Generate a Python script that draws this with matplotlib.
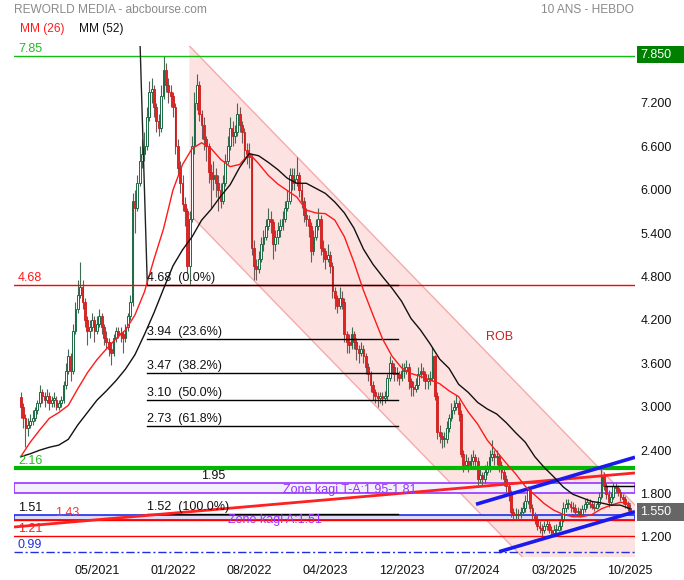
import matplotlib
matplotlib.use("Agg")
import matplotlib.pyplot as plt
import matplotlib.transforms as mtrans
from matplotlib.patches import Rectangle, Polygon
import numpy as np

plt.rcParams['font.family'] = ['Liberation Sans', 'DejaVu Sans']

# ---------------- data ----------------
title = "REWORLD MEDIA - abcbourse.com"
period = "10 ANS - HEBDO"

first_open = 3.14
close = [3.00, 2.85, 2.70, 2.75, 2.80, 2.85, 2.95, 3.05, 3.20, 3.15,
         3.10, 3.15, 3.05, 3.10, 3.10, 3.00, 3.05, 3.10, 3.30, 3.50,
         3.70, 3.50, 4.05, 4.35, 4.55, 4.65, 4.45, 4.20, 4.05, 4.10,
         4.20, 4.05, 4.15, 4.25, 4.10, 3.95, 3.90, 3.80, 3.75, 3.95,
         4.05, 4.00, 4.00, 3.95, 4.10, 4.25, 4.45, 5.85, 5.75, 6.10,
         6.40, 6.50, 6.60, 7.00, 7.35, 7.40, 7.15, 6.95, 6.85, 7.30,
         7.65, 7.45, 7.35, 7.30, 7.15, 6.60, 6.30, 6.10, 5.80, 5.70,
         4.95, 5.60, 6.60, 7.20, 7.45, 7.05, 6.90, 6.70, 6.60, 6.25,
         6.15, 6.20, 6.10, 6.00, 5.85, 6.10, 6.40, 6.60, 6.85, 6.75,
         6.80, 7.05, 6.90, 6.80, 6.55, 6.50, 6.45, 5.20, 4.95, 4.90,
         5.05, 5.25, 5.35, 5.50, 5.60, 5.55, 5.25, 5.35, 5.45, 5.50,
         5.60, 5.75, 5.85, 6.20, 6.10, 6.15, 6.20, 6.00, 5.85, 5.65,
         5.60, 5.50, 5.15, 5.35, 5.50, 5.60, 5.20, 5.15, 5.05, 5.10,
         4.95, 4.60, 4.50, 4.40, 4.50, 4.45, 4.00, 3.90, 3.85, 4.00,
         3.90, 3.80, 3.75, 3.80, 3.70, 3.55, 3.45, 3.30, 3.20, 3.15,
         3.12, 3.15, 3.12, 3.15, 3.40, 3.60, 3.55, 3.45, 3.45, 3.40,
         3.50, 3.50, 3.55, 3.35, 3.28, 3.25, 3.30, 3.45, 3.50, 3.45,
         3.35, 3.38, 3.40, 3.70, 3.15, 2.65, 2.60, 2.55, 2.55, 2.70,
         2.85, 2.95, 3.00, 3.05, 2.90, 2.35, 2.20, 2.25, 2.20, 2.25,
         2.30, 2.25, 2.00, 2.05, 2.00, 2.10, 2.15, 2.30, 2.35, 2.30,
         2.30, 2.20, 2.10, 2.00, 1.90, 1.80, 1.55, 1.50, 1.52, 1.50,
         1.55, 1.60, 1.70, 1.85, 1.60, 1.50, 1.45, 1.35, 1.32, 1.30,
         1.35, 1.38, 1.30, 1.25, 1.30, 1.30, 1.35, 1.45, 1.60, 1.65,
         1.65, 1.62, 1.60, 1.55, 1.55, 1.52, 1.58, 1.65, 1.68, 1.65,
         1.62, 1.60, 1.65, 1.75, 2.05, 1.90, 1.80, 1.68, 1.75, 1.90,
         1.88, 1.82, 1.75, 1.72, 1.65, 1.60, 1.55]
high = [3.20, 3.05, 2.90, 2.85, 2.90, 2.95, 3.00, 3.10, 3.30, 3.25,
        3.20, 3.25, 3.20, 3.15, 3.20, 3.15, 3.10, 3.15, 3.35, 3.60,
        3.80, 3.75, 4.15, 4.45, 4.75, 5.00, 4.75, 4.50, 4.25, 4.20,
        4.30, 4.25, 4.25, 4.35, 4.30, 4.15, 4.05, 3.95, 3.90, 4.00,
        4.10, 4.10, 4.10, 4.05, 4.15, 4.30, 4.55, 5.95, 6.00, 6.20,
        6.60, 6.70, 6.80, 7.15, 7.50, 7.55, 7.45, 7.20, 7.05, 7.45,
        7.85, 7.75, 7.55, 7.45, 7.35, 7.20, 6.70, 6.40, 6.20, 5.90,
        5.75, 5.70, 6.75, 7.35, 7.60, 7.50, 7.10, 7.00, 6.75, 6.65,
        6.35, 6.40, 6.30, 6.20, 6.10, 6.20, 6.50, 6.75, 7.00, 6.95,
        6.90, 7.20, 7.15, 6.95, 6.85, 6.65, 6.65, 6.50, 5.30, 5.05,
        5.15, 5.35, 5.45, 5.60, 5.75, 5.70, 5.60, 5.45, 5.55, 5.60,
        5.70, 5.85, 6.00, 6.30, 6.30, 6.30, 6.45, 6.25, 6.10, 5.90,
        5.75, 5.65, 5.55, 5.45, 5.60, 5.75, 5.65, 5.30, 5.20, 5.25,
        5.15, 5.00, 4.65, 4.55, 4.65, 4.60, 4.50, 4.05, 4.00, 4.10,
        4.05, 3.95, 3.85, 3.90, 3.85, 3.75, 3.60, 3.50, 3.35, 3.25,
        3.20, 3.20, 3.20, 3.22, 3.45, 3.70, 3.65, 3.60, 3.55, 3.50,
        3.60, 3.60, 3.65, 3.60, 3.40, 3.35, 3.40, 3.55, 3.60, 3.55,
        3.50, 3.45, 3.50, 3.83, 3.72, 3.20, 2.75, 2.65, 2.65, 2.80,
        2.90, 3.05, 3.10, 3.16, 3.10, 2.95, 2.40, 2.35, 2.30, 2.35,
        2.40, 2.35, 2.30, 2.15, 2.10, 2.20, 2.25, 2.40, 2.54, 2.40,
        2.40, 2.35, 2.25, 2.15, 2.05, 1.95, 1.85, 1.60, 1.60, 1.58,
        1.62, 1.68, 1.78, 1.90, 1.88, 1.65, 1.55, 1.50, 1.42, 1.38,
        1.42, 1.45, 1.42, 1.35, 1.36, 1.38, 1.42, 1.50, 1.68, 1.72,
        1.72, 1.70, 1.68, 1.65, 1.62, 1.60, 1.64, 1.72, 1.74, 1.72,
        1.70, 1.68, 1.70, 1.82, 2.15, 2.10, 1.95, 1.85, 1.82, 1.95,
        1.95, 1.92, 1.86, 1.80, 1.76, 1.70, 1.65]
low = [2.85, 2.70, 2.45, 2.60, 2.70, 2.75, 2.80, 2.90, 3.00, 3.05,
       3.00, 3.05, 2.95, 3.00, 3.00, 2.95, 2.95, 3.00, 3.05, 3.25,
       3.45, 3.35, 3.45, 4.00, 4.30, 4.50, 4.35, 4.10, 3.85, 3.95,
       4.05, 3.90, 4.00, 4.10, 4.00, 3.85, 3.80, 3.70, 3.58, 3.70,
       3.90, 3.95, 3.90, 3.75, 3.90, 4.05, 4.20, 4.40, 5.40, 5.70,
       6.05, 6.30, 6.40, 6.55, 6.95, 7.20, 7.00, 6.80, 6.75, 6.80,
       7.25, 7.35, 7.20, 7.15, 7.00, 6.50, 6.20, 5.95, 5.70, 5.50,
       4.85, 4.70, 5.55, 6.50, 7.10, 6.95, 6.70, 6.55, 6.40, 6.10,
       5.75, 6.00, 5.90, 5.70, 5.75, 5.80, 6.05, 6.35, 6.55, 6.60,
       6.65, 6.75, 6.80, 6.65, 6.40, 6.35, 6.30, 5.10, 4.75, 4.75,
       4.85, 5.00, 5.15, 5.30, 5.45, 5.40, 5.05, 5.15, 5.25, 5.35,
       5.45, 5.55, 5.70, 5.80, 6.00, 6.00, 6.05, 5.90, 5.75, 5.55,
       5.50, 5.35, 5.00, 5.10, 5.30, 5.45, 5.10, 5.00, 4.90, 5.00,
       4.85, 4.50, 4.35, 4.30, 4.35, 4.35, 3.90, 3.75, 3.75, 3.80,
       3.80, 3.65, 3.60, 3.70, 3.60, 3.45, 3.35, 3.20, 3.10, 3.05,
       3.00, 3.05, 3.02, 3.05, 3.10, 3.35, 3.45, 3.35, 3.35, 3.30,
       3.35, 3.40, 3.45, 3.25, 3.15, 3.15, 3.20, 3.25, 3.40, 3.35,
       3.25, 3.25, 3.30, 3.35, 3.10, 2.55, 2.50, 2.43, 2.45, 2.50,
       2.65, 2.80, 2.90, 2.95, 2.80, 2.30, 2.10, 2.15, 2.10, 2.15,
       2.20, 2.15, 1.92, 1.95, 1.92, 1.95, 2.05, 2.10, 2.25, 2.20,
       2.20, 2.10, 2.00, 1.90, 1.82, 1.70, 1.48, 1.45, 1.45, 1.44,
       1.46, 1.50, 1.55, 1.65, 1.55, 1.45, 1.38, 1.30, 1.25, 1.20,
       1.26, 1.30, 1.25, 1.20, 1.22, 1.25, 1.28, 1.30, 1.40, 1.55,
       1.58, 1.55, 1.54, 1.50, 1.50, 1.48, 1.50, 1.55, 1.60, 1.60,
       1.58, 1.56, 1.58, 1.62, 1.72, 1.85, 1.72, 1.62, 1.64, 1.72,
       1.82, 1.76, 1.70, 1.66, 1.60, 1.56, 1.52]

# moving averages read every 4 weeks
ma_weeks = list(range(0, 257, 4))
ma26 = [2.31, 2.51, 2.68, 2.84, 2.92, 3.02, 3.25, 3.47, 3.65, 3.80,
        3.94, 4.06, 4.27, 4.59, 5.04, 5.46, 6.00, 6.35, 6.57, 6.65,
        6.57, 6.42, 6.32, 6.35, 6.50, 6.36, 6.20, 6.08, 5.99, 5.90,
        5.72, 5.68, 5.67, 5.58, 5.35, 5.00, 4.61, 4.27, 3.94, 3.70,
        3.54, 3.46, 3.42, 3.37, 3.32, 3.22, 3.14, 2.93, 2.76, 2.54,
        2.38, 2.22, 2.07, 1.90, 1.78, 1.66, 1.57, 1.51, 1.48, 1.48,
        1.51, 1.59, 1.64, 1.68, 1.66]
ma52 = [2.31, 2.35, 2.40, 2.44, 2.47, 2.55, 2.75, 2.92, 3.09, 3.22,
        3.36, 3.52, 3.72, 4.00, 4.30, 4.63, 4.95, 5.17, 5.35, 5.58,
        5.73, 5.91, 6.07, 6.31, 6.50, 6.47, 6.38, 6.28, 6.16, 6.09,
        6.09, 6.02, 5.95, 5.83, 5.68, 5.47, 5.18, 4.97, 4.80, 4.64,
        4.46, 4.22, 4.06, 3.87, 3.66, 3.53, 3.31, 3.20, 3.06, 2.97,
        2.90, 2.78, 2.64, 2.51, 2.31, 2.16, 2.03, 1.89, 1.79, 1.74,
        1.69, 1.67, 1.64, 1.64, 1.59]

xtick_pos = [32, 64, 96, 128, 160, 192, 224, 256]
xtick_labels = ["05/2021", "01/2022", "08/2022", "04/2023", "12/2023",
                "07/2024", "03/2025", "10/2025"]
ytick_vals = [1.2, 1.8, 2.4, 3.0, 3.6, 4.2, 4.8, 5.4, 6.0, 6.6, 7.2]

fib_levels = [4.68, 3.94, 3.47, 3.10, 2.73, 1.52]
fib_pcts = ["0.0%", "23.6%", "38.2%", "50.0%", "61.8%", "100.0%"]
fib_start, fib_end = 53.2, 158.5
fib_top = 7.85

resist_high = 7.85
resist_mid = 4.68
support_green = 2.16
zone_ta = (1.81, 1.95)
zone_a = (1.43, 1.51)
level_121 = 1.21
level_099 = 0.99
level_191 = 1.91
last_price = 1.55

rob_x = [70.84, 258.1]
rob_upper = [7.99, 1.64]
rob_lower = [5.665, -0.68]

red_trend_x = [-2.82, 258.1]
red_trend_y = [1.338, 2.085]
blue_up_x = [191.3, 258.1]
blue_up_y = [1.652, 2.302]
blue_lo_x = [201.0, 258.1]
blue_lo_y = [0.996, 1.549]

# ---------------- figure ----------------
W, H = 684, 580
fig = plt.figure(figsize=(W / 100, H / 100), dpi=100)
fig.patch.set_facecolor('white')
L, R, T, B = 14, 635, 46, 557
ax = fig.add_axes([L / W, 1 - B / H, (R - L) / W, (B - T) / H])
XMIN, XMAX = -2.82, 258.1
ax.set_xlim(XMIN, XMAX)
ax.set_ylim(0.923, 7.988)
for s in ax.spines.values():
    s.set_visible(False)

blend = mtrans.blended_transform_factory(ax.transAxes, ax.transData)
FS = 9
FSH = 8.6

# ROB channel
poly = Polygon([(rob_x[0], rob_upper[0]), (rob_x[1], rob_upper[1]),
                (rob_x[1], rob_lower[1]), (rob_x[0], rob_lower[0])],
               closed=True, facecolor='#fde2e2', edgecolor='none', zorder=0)
ax.add_patch(poly)
ax.plot(rob_x, rob_upper, color='#f6aaaa', lw=1.0, zorder=0.5)
ax.plot(rob_x, rob_lower, color='#f6aaaa', lw=1.0, zorder=0.5)
ax.text(201.4, 3.965, "ROB", color='#cc2020', fontsize=FS, ha='center', va='center')

# zones
ax.add_patch(Rectangle((0, zone_ta[0]), 1, zone_ta[1] - zone_ta[0], transform=blend,
                       facecolor='#f1f0fc', edgecolor='#9a33ff', lw=1.2, zorder=1))
ax.add_patch(Rectangle((0, zone_a[0]), 1, zone_a[1] - zone_a[0], transform=blend,
                       facecolor='#dedcf6', edgecolor='#1f2ee8', lw=1.2, zorder=1))

# candles
n = len(close)
assert len(high) == n and len(low) == n
opens = [first_open] + close[:-1]
for i in range(n):
    o, c = opens[i], close[i]
    up = c >= o
    wick_col = '#3f6b52' if up else '#6e5a5a'
    ax.vlines(i, low[i], high[i], color=wick_col, lw=0.8, zorder=2)
    bot = min(o, c)
    h = max(abs(c - o), 0.015)
    if up:
        ax.add_patch(Rectangle((i - 0.38, bot), 0.76, h, facecolor='white',
                               edgecolor='#1c6a43', lw=0.7, zorder=3))
    else:
        ax.add_patch(Rectangle((i - 0.38, bot), 0.76, h, facecolor='#e52222',
                               edgecolor='#cf1a1a', lw=0.6, zorder=3))

# horizontal levels
ax.axhline(resist_high, color='#10c010', lw=1.0, zorder=4)
ax.axhline(resist_mid, color='#ff0000', lw=1.0, zorder=4)
ax.axhline(support_green, color='#00b800', lw=3.0, zorder=4)
ax.axhline(zone_a[0], color='#ff0000', lw=1.0, zorder=4)
ax.axhline(level_121, color='#ff0000', lw=1.0, zorder=4)
ax.axhline(level_099, color='#2030e0', lw=1.0, ls=(0, (6, 2, 1.5, 2)), zorder=4)
ax.plot([245.5, XMAX], [level_191, level_191], color='black', lw=1.0, zorder=4)

# fibonacci
ax.plot([fib_start - 2.9 * (8.3 - fib_levels[0]) / (fib_top - fib_levels[0]), fib_start],
        [8.3, fib_levels[0]], color='#222222', lw=1.0, zorder=4)
for lv, pc in zip(fib_levels, fib_pcts):
    ax.plot([fib_start, fib_end], [lv, lv], color='black', lw=1.0, zorder=4)
    ax.text(fib_start - 0.3, lv + 0.012, f"{lv:.2f}  ({pc})", fontsize=FS,
            color='#111111', ha='left', va='bottom', zorder=6)

# trend lines
ax.plot(red_trend_x, red_trend_y, color='#ff2020', lw=2.0, zorder=4, solid_capstyle='butt')
ax.plot(blue_up_x, blue_up_y, color='#1a1aee', lw=2.6, zorder=4, solid_capstyle='butt')
ax.plot(blue_lo_x, blue_lo_y, color='#1a1aee', lw=2.6, zorder=4, solid_capstyle='butt')

# moving averages
ax.plot(ma_weeks, ma26, color='#ff1a1a', lw=1.0, zorder=5)
ax.plot(ma_weeks, ma52, color='#111111', lw=1.0, zorder=5)

# left labels
lx = (18 - L) / (R - L)
def lab(x, y, s, col):
    ax.text(x, y + 0.012, s, transform=blend, color=col, fontsize=FS,
            ha='left', va='bottom', zorder=6)
lab(lx, resist_high, "7.85", '#22bb22')
lab(lx, resist_mid, "4.68", '#ff1a1a')
lab(lx, support_green, "2.16", '#22bb22')
lab(lx, zone_a[1], "1.51", '#111111')
lab((55 - L) / (R - L), zone_a[0], "1.43", '#ff3030')
lab(lx, level_121, "1.21", '#ff1a1a')
lab(lx, level_099, "0.99", '#2030e0')
ax.text(80.8, zone_ta[1] + 0.012, "1.95", color='#111111', fontsize=FS,
        ha='center', va='bottom', zorder=6)
ax.text(110.2, 1.845, "Zone kagi T-A:1.95-1.81", color='#9a33ff', fontsize=FS,
        ha='left', va='center', zorder=6)
ax.text(87.2, 1.435, "Zone kagi A:1.51", color='#9a33ff', fontsize=FS,
        ha='left', va='center', zorder=6)

# axes ticks
ax.set_xticks(xtick_pos)
ax.set_xticklabels(xtick_labels, fontsize=FS, color='#111111')
ax.set_yticks(ytick_vals)
ax.set_yticklabels([f"{v:.3f}" for v in ytick_vals], fontsize=FS, color='#111111')
ax.yaxis.tick_right()
ax.tick_params(axis='both', length=0)
ax.tick_params(axis='y', pad=4)
ax.tick_params(axis='x', pad=6)

# right value boxes
bx0 = (R + 1.5 - L) / (R - L)
bw = (W - R - 1.5) / (R - L)
ax.add_patch(Rectangle((bx0, resist_high - 0.1), bw, 0.235, transform=blend,
                       facecolor='#008000', edgecolor='none', clip_on=False, zorder=6))
ax.text((640 - L) / (R - L), resist_high + 0.015, "7.850", transform=blend, color='white',
        fontsize=FS, ha='left', va='center', zorder=7)
ax.add_patch(Rectangle((bx0, last_price - 0.13), bw, 0.25, transform=blend,
                       facecolor='#666666', edgecolor='none', clip_on=False, zorder=6))
ax.text((640 - L) / (R - L), last_price - 0.005, "1.550", transform=blend, color='white',
        fontsize=FS, ha='left', va='center', zorder=7)

# header texts
fig.text(14 / W, 1 - 10 / H, title, color='#8a8a8a', fontsize=FSH, ha='left', va='center')
fig.text(634 / W, 1 - 10 / H, period, color='#8a8a8a', fontsize=FSH, ha='right', va='center')
fig.text(20 / W, 1 - 29 / H, "MM (26)", color='#ff1a1a', fontsize=FSH, ha='left', va='center')
fig.text(79 / W, 1 - 29 / H, "MM (52)", color='#111111', fontsize=FSH, ha='left', va='center')

fig.savefig("out.png", dpi=100, facecolor='white')
